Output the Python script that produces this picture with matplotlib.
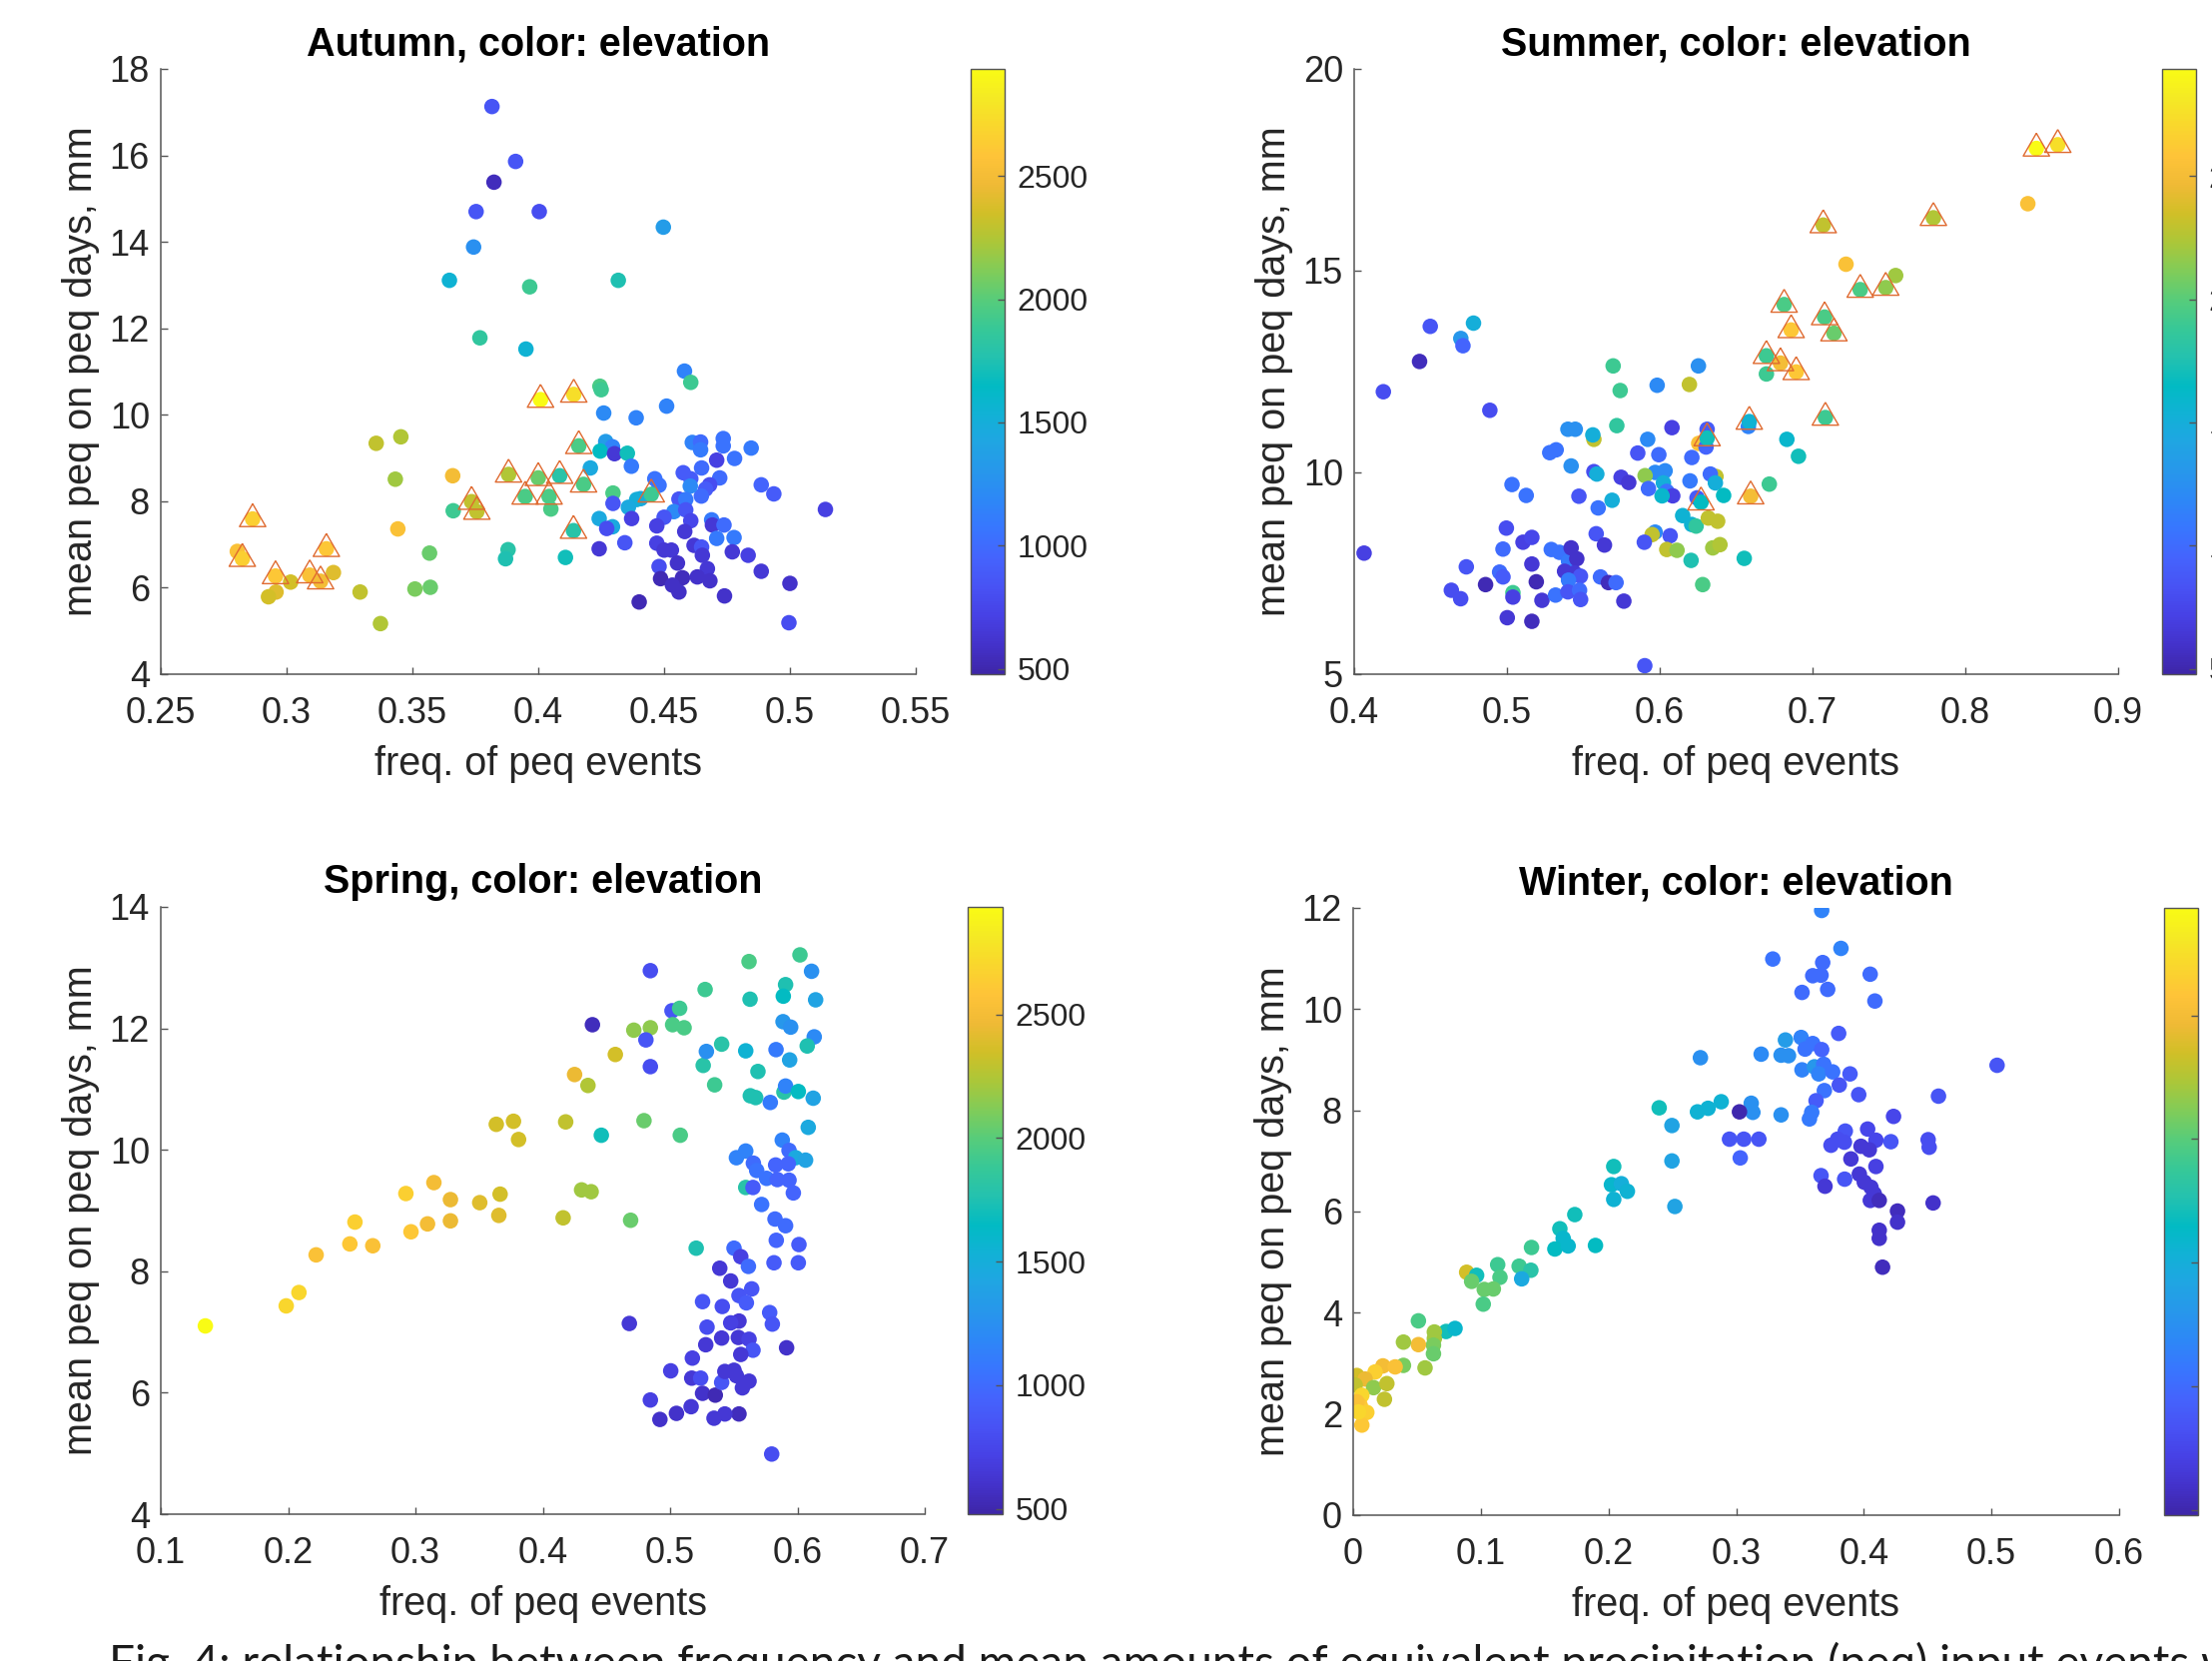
import matplotlib
matplotlib.use("Agg")
import matplotlib.pyplot as plt
from matplotlib.colors import LinearSegmentedColormap, Normalize
from matplotlib.ticker import FuncFormatter

# ---- data (freq, mean peq, elevation in m) ----
autumn_freq = [0.3816, 0.391, 0.3824, 0.3753, 0.4004, 0.4497, 0.3743, 0.3647, 0.4318, 0.3966,
               0.3768, 0.3951, 0.4581, 0.4606, 0.4245, 0.4250, 0.426, 0.451, 0.4389, 0.3356,
               0.3454, 0.3432, 0.366, 0.3442, 0.3662, 0.3568, 0.3571, 0.351, 0.3373, 0.3292,
               0.3186, 0.3016, 0.2958, 0.2928, 0.2804, 0.388, 0.387, 0.4108, 0.405, 0.4297,
               0.4268, 0.4295, 0.4246, 0.4303, 0.4354, 0.4207, 0.437, 0.4612, 0.4645, 0.4645,
               0.4735, 0.4735, 0.4846, 0.4780, 0.4709, 0.4649, 0.4576, 0.4606, 0.4721, 0.4681,
               0.4665, 0.4648, 0.4604, 0.4886, 0.4936, 0.4463, 0.4480, 0.4559, 0.4586, 0.4407,
               0.4391, 0.4297, 0.4358, 0.4242, 0.4295, 0.4272, 0.4371, 0.4242, 0.4344, 0.4539,
               0.4500, 0.4471, 0.4586, 0.4606, 0.4582, 0.4689, 0.4692, 0.4738, 0.4709, 0.4778,
               0.4471, 0.4500, 0.4529, 0.4619, 0.4649, 0.4652, 0.4771, 0.4834, 0.4480, 0.4553,
               0.4672, 0.4886, 0.4486, 0.4573, 0.4632, 0.4682, 0.4533, 0.4559, 0.4740, 0.5000,
               0.4401, 0.4996, 0.5141]
autumn_peq = [17.13, 15.86, 15.38, 14.70, 14.70, 14.34, 13.88, 13.11, 13.11, 12.96,
              11.78, 11.52, 11.01, 10.75, 10.66, 10.58, 10.04, 10.20, 9.93, 9.34,
              9.49, 8.51, 8.59, 7.36, 7.78, 6.80, 6.01, 5.97, 5.17, 5.90,
              6.35, 6.13, 5.90, 5.79, 6.84, 6.88, 6.67, 6.70, 7.82, 8.19,
              9.38, 9.26, 9.16, 9.10, 9.11, 8.77, 8.81, 9.36, 9.37, 9.19,
              9.45, 9.28, 9.23, 8.99, 8.95, 8.77, 8.66, 8.52, 8.54, 8.38,
              8.28, 8.12, 8.35, 8.38, 8.17, 8.52, 8.37, 8.05, 8.04, 8.06,
              8.04, 7.95, 7.86, 7.60, 7.41, 7.37, 7.60, 6.90, 7.04, 7.76,
              7.63, 7.43, 7.80, 7.55, 7.30, 7.57, 7.45, 7.45, 7.14, 7.16,
              7.03, 6.87, 6.87, 6.98, 6.94, 6.75, 6.83, 6.75, 6.49, 6.57,
              6.44, 6.38, 6.21, 6.23, 6.25, 6.16, 6.06, 5.90, 5.81, 6.10,
              5.67, 5.19, 7.81]
autumn_elev = [850, 850, 550, 850, 800, 1350, 1250, 1550, 1750, 1900,
               1850, 1550, 1150, 1900, 1950, 1900, 1200, 1150, 1150, 2300,
               2250, 2200, 2500, 2550, 1900, 2050, 2050, 2100, 2250, 2300,
               2400, 2350, 2400, 2350, 2550, 1800, 1750, 1700, 1950, 1950,
               1350, 1150, 1650, 650, 1700, 1450, 1100, 1150, 1000, 1100,
               1050, 1050, 1100, 1050, 700, 1000, 900, 900, 1000, 800,
               900, 1000, 1200, 950, 900, 1050, 1050, 850, 1100, 1450,
               1500, 850, 1450, 1450, 1450, 800, 700, 650, 850, 1200,
               850, 700, 850, 750, 650, 1100, 650, 1000, 1100, 1100,
               700, 650, 650, 650, 850, 650, 650, 700, 800, 600,
               650, 650, 520, 550, 600, 600, 580, 580, 600, 600,
               520, 800, 700]
# stations marked with a triangle
autumn_mark_freq = [0.4009, 0.4141, 0.2824, 0.2865, 0.2956, 0.3092, 0.3135, 0.3158, 0.3882, 0.3735,
                    0.3756, 0.3948, 0.4000, 0.4043, 0.4085, 0.4161, 0.4180, 0.4140, 0.4449]
autumn_mark_peq = [10.35, 10.47, 6.67, 7.59, 6.27, 6.29, 6.15, 6.90, 8.62, 7.99,
                   7.76, 8.11, 8.54, 8.11, 8.59, 9.28, 8.39, 7.32, 8.16]
autumn_mark_elev = [2940, 2750, 2650, 2650, 2600, 2550, 2500, 2600, 2250, 2300,
                    2300, 1950, 2050, 1950, 1800, 1950, 1950, 1800, 1900]

summer_freq = [0.8409, 0.7219, 0.7544, 0.6698, 0.4498, 0.4781, 0.4698, 0.4712, 0.4428, 0.4191,
               0.4888, 0.4065, 0.5902, 0.5695, 0.5741, 0.6253, 0.5983, 0.6194, 0.658, 0.6832,
               0.6908, 0.6717, 0.6553, 0.6281, 0.6205, 0.631, 0.6255, 0.6303, 0.608, 0.5921,
               0.5856, 0.5994, 0.621, 0.6368, 0.6331, 0.6364, 0.6418, 0.6244, 0.6198, 0.597,
               0.6035, 0.6024, 0.6046, 0.6085, 0.6015, 0.5904, 0.5926, 0.5747, 0.5797, 0.5569,
               0.5588, 0.5420, 0.5399, 0.5447, 0.5569, 0.5562, 0.5719, 0.5280, 0.5322, 0.5033,
               0.5126, 0.5471, 0.5597, 0.5688, 0.6150, 0.6209, 0.6238, 0.6318, 0.6379, 0.5970,
               0.5950, 0.5899, 0.6068, 0.6046, 0.6113, 0.6347, 0.6394, 0.5584, 0.5638, 0.4996,
               0.5105, 0.5163, 0.4974, 0.4734, 0.4952, 0.4974, 0.5163, 0.5290, 0.5344, 0.5403,
               0.5420, 0.5457, 0.5377, 0.5442, 0.5481, 0.5403, 0.5612, 0.5664, 0.5714, 0.5192,
               0.4860, 0.4636, 0.4697, 0.5039, 0.5039, 0.5229, 0.5318, 0.5399, 0.5475, 0.5482,
               0.5765, 0.5002, 0.5163]
summer_peq = [16.66, 15.16, 14.88, 12.44, 13.62, 13.70, 13.32, 13.14, 12.75, 12.00,
              11.54, 8.00, 5.21, 12.64, 12.03, 12.64, 12.16, 12.18, 11.14, 10.82,
              10.40, 9.71, 7.87, 7.22, 7.82, 11.07, 10.72, 10.63, 11.11, 10.82,
              10.48, 10.44, 10.37, 9.90, 9.96, 9.74, 9.43, 9.37, 9.79, 10.00,
              10.04, 9.74, 9.53, 9.42, 9.42, 9.92, 9.60, 9.88, 9.75, 10.02,
              9.96, 10.16, 11.07, 11.07, 10.82, 10.93, 11.16, 10.49, 10.56, 9.70,
              9.43, 9.41, 9.12, 9.31, 8.93, 8.71, 8.67, 8.87, 8.79, 8.52,
              8.46, 8.27, 8.43, 8.09, 8.07, 8.13, 8.21, 8.48, 8.20, 8.62,
              8.27, 8.39, 8.10, 7.66, 7.53, 7.41, 7.73, 8.09, 8.02, 7.80,
              8.13, 7.86, 7.55, 7.51, 7.43, 7.33, 7.41, 7.27, 7.27, 7.29,
              7.22, 7.08, 6.87, 7.02, 6.91, 6.83, 6.96, 7.04, 7.08, 6.85,
              6.81, 6.40, 6.31]
summer_elev = [2550, 2550, 2200, 1900, 850, 1500, 1300, 950, 550, 800,
               800, 700, 850, 1900, 1900, 1250, 1200, 2300, 1150, 1600,
               1700, 1900, 1700, 1950, 1750, 900, 2550, 950, 700, 1200,
               850, 1000, 1000, 2300, 1000, 1500, 1650, 900, 1100, 1200,
               1200, 1500, 1050, 700, 1600, 2150, 1000, 700, 650, 800,
               1500, 1250, 1250, 1250, 2300, 1500, 1850, 1050, 1050, 1050,
               1050, 850, 1050, 1500, 1550, 1550, 1850, 2300, 2300, 1200,
               2300, 850, 850, 2300, 2150, 2200, 2250, 850, 650, 800,
               700, 750, 1000, 850, 1000, 900, 650, 1050, 1050, 1100,
               600, 600, 650, 650, 850, 1100, 1000, 550, 1000, 520,
               520, 800, 800, 1900, 700, 650, 1050, 850, 1000, 850,
               650, 650, 550]
summer_mark_freq = [0.8465, 0.8605, 0.7791, 0.7070, 0.7312, 0.7479, 0.6814, 0.7079, 0.6860, 0.7140,
                    0.6698, 0.6790, 0.6893, 0.7084, 0.6586, 0.6595, 0.6310, 0.6270]
summer_mark_peq = [18.03, 18.12, 16.31, 16.13, 14.53, 14.58, 14.16, 13.85, 13.53, 13.45,
                   12.89, 12.71, 12.49, 11.36, 11.26, 9.41, 10.85, 9.26]
summer_mark_elev = [2940, 2750, 2250, 2300, 1950, 2150, 1950, 1950, 2600, 2050,
                    1900, 2500, 2600, 1900, 1550, 2500, 1700, 1650]

spring_freq = [0.135, 0.1985, 0.2085, 0.222, 0.2485, 0.2525, 0.2665, 0.2925, 0.2965, 0.3145,
               0.3095, 0.3275, 0.3275, 0.3505, 0.3665, 0.3655, 0.3635, 0.377, 0.381, 0.418,
               0.416, 0.4305, 0.438, 0.425, 0.4355, 0.457, 0.446, 0.469, 0.4795, 0.4715,
               0.4845, 0.439, 0.4845, 0.481, 0.4845, 0.468, 0.5015, 0.5075, 0.502, 0.511,
               0.508, 0.5275, 0.526, 0.5285, 0.5405, 0.535, 0.5205, 0.562, 0.602, 0.6111,
               0.5907, 0.5889, 0.6143, 0.5628, 0.5887, 0.5947, 0.6132, 0.6077, 0.5594, 0.5832,
               0.5939, 0.5690, 0.5630, 0.5672, 0.5787, 0.5894, 0.5907, 0.6007, 0.6124, 0.6085,
               0.5881, 0.5934, 0.5986, 0.6064, 0.5594, 0.5521, 0.5654, 0.5680, 0.5829, 0.5928,
               0.5758, 0.5842, 0.5934, 0.5968, 0.5594, 0.5651, 0.5719, 0.5824, 0.5907, 0.5834,
               0.6012, 0.5816, 0.6007, 0.5502, 0.5555, 0.5615, 0.5476, 0.5641, 0.5541, 0.5599,
               0.5782, 0.5803, 0.5541, 0.5476, 0.5536, 0.5620, 0.5651, 0.5555, 0.5915, 0.5502,
               0.5521, 0.5620, 0.5568, 0.5541, 0.5798, 0.5255, 0.539, 0.541, 0.529, 0.528,
               0.5405, 0.5175, 0.5005, 0.517, 0.524, 0.5255, 0.5355, 0.5405, 0.543, 0.5165,
               0.505, 0.492, 0.4845, 0.5345, 0.543]
spring_peq = [7.10, 7.43, 7.65, 8.27, 8.45, 8.81, 8.42, 9.28, 8.65, 9.46,
              8.78, 9.18, 8.83, 9.13, 9.27, 8.92, 10.42, 10.47, 10.17, 10.46,
              8.88, 9.34, 9.31, 11.24, 11.06, 11.57, 10.24, 8.84, 10.48, 11.97,
              12.01, 12.06, 12.95, 11.81, 11.37, 7.14, 12.29, 12.33, 12.06, 12.01,
              10.24, 12.64, 11.39, 11.62, 11.74, 11.07, 8.38, 13.10, 13.21, 12.94,
              12.72, 12.53, 12.47, 12.48, 12.11, 12.02, 11.86, 11.71, 11.63, 11.65,
              11.48, 11.29, 10.89, 10.86, 10.78, 10.95, 11.05, 10.96, 10.85, 10.37,
              10.16, 9.99, 9.87, 9.83, 9.98, 9.87, 9.78, 9.66, 9.75, 9.77,
              9.53, 9.51, 9.50, 9.29, 9.38, 9.38, 9.10, 8.86, 8.75, 8.51,
              8.44, 8.14, 8.14, 8.38, 8.24, 8.08, 7.84, 7.71, 7.60, 7.48,
              7.32, 7.13, 7.18, 7.15, 6.91, 6.88, 6.70, 6.63, 6.74, 6.37,
              6.28, 6.19, 6.08, 5.65, 4.99, 7.50, 8.05, 7.42, 7.08, 6.79,
              6.90, 6.57, 6.36, 6.24, 6.24, 5.99, 5.96, 6.17, 6.35, 5.77,
              5.66, 5.56, 5.88, 5.58, 5.65]
spring_elev = [2930, 2700, 2700, 2550, 2600, 2650, 2550, 2650, 2600, 2500,
               2500, 2450, 2450, 2400, 2350, 2400, 2350, 2350, 2350, 2300,
               2300, 2200, 2200, 2450, 2250, 2350, 1700, 2050, 2050, 2150,
               2150, 550, 800, 850, 800, 650, 850, 1900, 1950, 1950,
               1950, 1900, 1800, 1250, 1800, 1900, 1750, 1950, 1900, 1250,
               1750, 1650, 1400, 1750, 1300, 1250, 1200, 1750, 1550, 1100,
               1400, 1750, 1750, 1750, 1100, 1800, 1150, 1650, 1400, 1450,
               1150, 1000, 1450, 1400, 1150, 1150, 1000, 1050, 950, 950,
               1050, 950, 950, 950, 1800, 900, 1050, 1000, 1000, 950,
               900, 900, 900, 1000, 700, 1000, 650, 850, 850, 900,
               900, 850, 650, 700, 650, 700, 850, 650, 600, 650,
               650, 650, 650, 550, 800, 850, 650, 800, 800, 650,
               650, 700, 700, 650, 800, 600, 520, 850, 650, 650,
               600, 600, 700, 650, 650]

winter_freq = [0.367, 0.5044, 0.272, 0.2397, 0.2497, 0.2497, 0.252, 0.2697, 0.278, 0.2883,
               0.3821, 0.3287, 0.3678, 0.3600, 0.3665, 0.4050, 0.3516, 0.3717, 0.4087, 0.3803,
               0.3386, 0.3196, 0.3352, 0.3410, 0.3509, 0.3540, 0.3600, 0.3670, 0.3516, 0.3613,
               0.3686, 0.3647, 0.3756, 0.3892, 0.3808, 0.3960, 0.3691, 0.3626, 0.3592, 0.3574,
               0.3118, 0.3131, 0.3352, 0.3026, 0.2948, 0.3060, 0.3178, 0.3032, 0.4233, 0.4585,
               0.3855, 0.4030, 0.4095, 0.4212, 0.3743, 0.3795, 0.3848, 0.3978, 0.4043, 0.3899,
               0.4095, 0.3665, 0.3696, 0.3850, 0.3965, 0.4004, 0.4056, 0.4082, 0.4051, 0.4121,
               0.4264, 0.4264, 0.4543, 0.4504, 0.4512, 0.4121, 0.4121, 0.4147,
               0.2041, 0.2023, 0.2101, 0.2148, 0.2041, 0.1736, 0.1898, 0.1619, 0.1645, 0.1580,
               0.1684, 0.1397, 0.1300, 0.1392, 0.1320, 0.1132, 0.1150, 0.0889, 0.0967, 0.0928,
               0.1027, 0.1098, 0.1019, 0.0728, 0.0798, 0.0511, 0.0636, 0.0636, 0.0629, 0.0629,
               0.0511, 0.0394, 0.0563, 0.0394, 0.0233, 0.0329, 0.0172, 0.0029, 0.0094, 0.0016,
               0.0160, 0.0264, 0.0245, 0.0068, 0.0055, 0.0029, 0.0107, 0.0068, 0.0042]
winter_peq = [11.95, 8.89, 9.04, 8.05, 7.70, 7.00, 6.10, 7.97, 8.04, 8.17,
              11.20, 10.99, 10.92, 10.66, 10.67, 10.69, 10.33, 10.39, 10.16, 9.52,
              9.39, 9.11, 9.09, 9.08, 9.44, 9.21, 9.32, 9.20, 8.80, 8.86,
              8.91, 8.72, 8.76, 8.72, 8.50, 8.31, 8.39, 8.19, 7.96, 7.83,
              8.14, 7.96, 7.91, 7.97, 7.43, 7.43, 7.43, 7.06, 7.88, 8.28,
              7.59, 7.63, 7.41, 7.38, 7.31, 7.43, 7.37, 7.29, 7.22, 7.04,
              6.89, 6.71, 6.50, 6.64, 6.74, 6.58, 6.48, 6.35, 6.22, 6.22,
              6.01, 5.79, 6.17, 7.42, 7.27, 5.63, 5.47, 4.90,
              6.89, 6.53, 6.55, 6.40, 6.24, 5.94, 5.33, 5.66, 5.47, 5.26,
              5.32, 5.29, 4.92, 4.84, 4.67, 4.95, 4.70, 4.80, 4.74, 4.62,
              4.46, 4.47, 4.17, 3.63, 3.69, 3.84, 3.62, 3.49, 3.36, 3.19,
              3.37, 3.42, 2.91, 2.96, 2.95, 2.93, 2.83, 2.76, 2.69, 2.57,
              2.52, 2.60, 2.29, 2.37, 2.17, 2.24, 2.03, 1.78, 2.04]
winter_elev = [1150, 850, 1250, 1700, 1400, 1400, 1400, 1550, 1550, 1550,
               1150, 1050, 1000, 1000, 1000, 1000, 1000, 1000, 1000, 900,
               1350, 1200, 1250, 1250, 1150, 1050, 1050, 950, 1150, 1300,
               1050, 1150, 1050, 900, 850, 850, 1050, 900, 1100, 1100,
               1250, 1250, 1250, 500, 850, 850, 850, 950, 750, 850,
               850, 750, 750, 850, 800, 800, 800, 650, 650, 650,
               700, 850, 650, 850, 650, 650, 650, 650, 650, 550,
               550, 600, 600, 800, 800, 600, 600, 550,
               1700, 1600, 1500, 1550, 1550, 1700, 1650, 1700, 1600, 1650,
               1600, 1900, 1900, 1800, 1450, 1900, 1950, 2350, 1700, 2050,
               2050, 2050, 1950, 1700, 1600, 1950, 2200, 2200, 2100, 2050,
               2500, 2200, 2200, 2100, 2500, 2550, 2650, 2350, 2450, 2300,
               2150, 2300, 2300, 2700, 2600, 2550, 2650, 2600, 2700]

titles = ["Autumn, color: elevation", "Summer, color: elevation",
          "Spring, color: elevation", "Winter, color: elevation"]
xticks = [[0.25, 0.3, 0.35, 0.4, 0.45, 0.5, 0.55], [0.4, 0.5, 0.6, 0.7, 0.8, 0.9],
          [0.1, 0.2, 0.3, 0.4, 0.5, 0.6, 0.7], [0, 0.1, 0.2, 0.3, 0.4, 0.5, 0.6]]
yticks = [[4, 6, 8, 10, 12, 14, 16, 18], [5, 10, 15, 20],
          [4, 6, 8, 10, 12, 14], [0, 2, 4, 6, 8, 10, 12]]
cbar_ticks = [500, 1000, 1500, 2000, 2500]
elev_min, elev_max = 478, 2935
caption = ("Fig. 4: relationship between frequency and mean amounts of "
           "equivalent precipitation (peq) input events w")

# MATLAB parula (sampled)
parula_rgb = [(0.2422, 0.1504, 0.6603), (0.2647, 0.1978, 0.7952), (0.2783, 0.2559, 0.8991),
              (0.2810, 0.3228, 0.9579), (0.2699, 0.3892, 0.9906), (0.2206, 0.4603, 0.9973),
              (0.1786, 0.5289, 0.9682), (0.1540, 0.5902, 0.9218), (0.1248, 0.6459, 0.8883),
              (0.0689, 0.6948, 0.8394), (0.0067, 0.7312, 0.7660), (0.1408, 0.7584, 0.6842),
              (0.2161, 0.7843, 0.5923), (0.3406, 0.8008, 0.4789), (0.5044, 0.7993, 0.3480),
              (0.6720, 0.7793, 0.2227), (0.8203, 0.7498, 0.1535), (0.9393, 0.7288, 0.2100),
              (0.9970, 0.7659, 0.2199), (0.9786, 0.8386, 0.1766), (0.9597, 0.9135, 0.1423),
              (0.9769, 0.9839, 0.0805)]
parula = LinearSegmentedColormap.from_list("parula", parula_rgb)
norm = Normalize(elev_min, elev_max)

W, H = 2215, 1663
plt.rcParams['font.family'] = ['Liberation Sans', 'DejaVu Sans']
fig = plt.figure(figsize=(W / 100, H / 100), dpi=100)

gray = '#262626'
# [left, top, right, bottom] in pixels, colorbar [left, right]
ax_px = [(161, 69, 917, 675), (1356, 69, 2121, 675),
         (161, 908, 926, 1516), (1355, 909, 2122, 1517)]
cb_px = [(972, 1006), (2165, 2199), (969, 1004), (2167, 2201)]

panels = [
    (autumn_freq, autumn_peq, autumn_elev, autumn_mark_freq, autumn_mark_peq, autumn_mark_elev),
    (summer_freq, summer_peq, summer_elev, summer_mark_freq, summer_mark_peq, summer_mark_elev),
    (spring_freq, spring_peq, spring_elev, [], [], []),
    (winter_freq, winter_peq, winter_elev, [], [], []),
]

tri = [(0, 0.577), (-0.5, -0.289), (0.5, -0.289), (0, 0.577)]
fmt = FuncFormatter(lambda v, p: "%g" % v)

for i, (fx, fy, fe, mx, my, me) in enumerate(panels):
    l, t, r, b = ax_px[i]
    ax = fig.add_axes([l / W, 1 - b / H, (r - l) / W, (b - t) / H])
    sc = ax.scatter(fx + mx, fy + my, c=fe + me, cmap=parula, norm=norm,
                    s=125, linewidths=0, zorder=2)
    if mx:
        ax.scatter(mx, my, marker=tri, s=480, facecolors='none',
                   edgecolors='#df6a30', linewidths=1.0, zorder=3)
    ax.set_xlim(xticks[i][0], xticks[i][-1])
    ax.set_ylim(yticks[i][0], yticks[i][-1])
    ax.set_xticks(xticks[i])
    ax.set_yticks(yticks[i])
    ax.xaxis.set_major_formatter(fmt)
    ax.yaxis.set_major_formatter(fmt)
    for s in ['top', 'right']:
        ax.spines[s].set_visible(False)
    for s in ['left', 'bottom']:
        ax.spines[s].set_color('#555555')
        ax.spines[s].set_linewidth(1.1)
    ax.tick_params(direction='in', length=5, width=1.0, colors='#555555',
                   labelcolor=gray, labelsize=26)
    ax.tick_params(axis='x', pad=16)
    ax.tick_params(axis='y', pad=8)
    ax.set_title(titles[i], fontsize=28.5, fontweight='bold', color='black', pad=10)
    ax.set_xlabel("freq. of peq events", fontsize=28.5, color=gray, va='center')
    ax.set_ylabel("mean peq on peq days, mm", fontsize=28.5, color=gray, va='center')
    ax.xaxis.set_label_coords(0.5, -90 / (b - t))
    ax.yaxis.set_label_coords(-80 / (r - l), 0.5)

    cl, cr = cb_px[i]
    cax = fig.add_axes([cl / W, 1 - b / H, (cr - cl) / W, (b - t) / H])
    cb = fig.colorbar(sc, cax=cax, ticks=cbar_ticks)
    cb.outline.set_edgecolor('#555555')
    cb.outline.set_linewidth(1.0)
    cax.tick_params(direction='in', length=5, width=1.0, colors='#555555',
                    labelcolor=gray, labelsize=23, pad=9)

fig.text(109 / W, 1 - 1680 / H, caption, fontsize=33, color='#1a1a1a',
         family=['Lato', 'DejaVu Sans'], ha='left', va='baseline')

fig.savefig("out.png", dpi=100)
